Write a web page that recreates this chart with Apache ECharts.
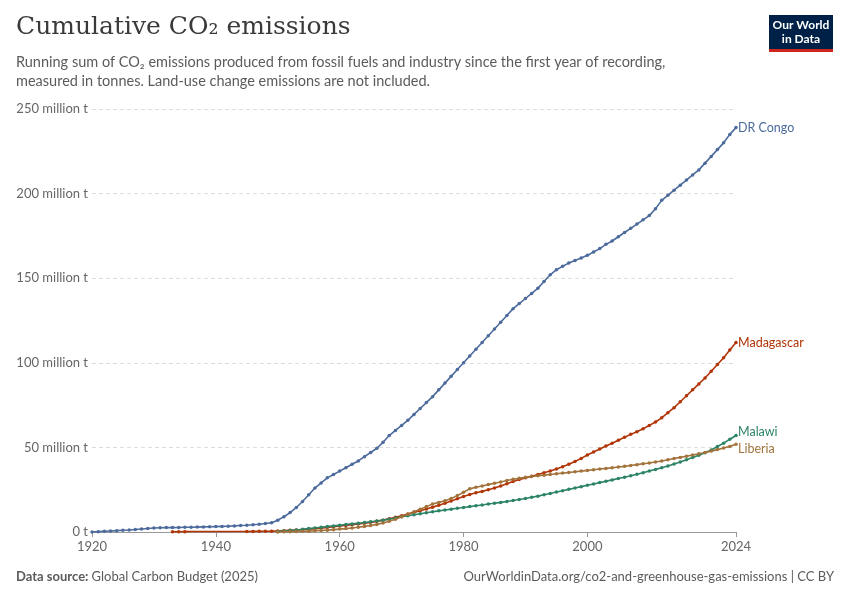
<!DOCTYPE html>
<html>
<head>
<meta charset="utf-8">
<script src="https://cdn.jsdelivr.net/npm/echarts@6/dist/echarts.min.js"></script>
<style>html,body{margin:0;padding:0;background:#fff}#main{width:850px;height:600px}</style>
</head>
<body>
<div id="main"></div>
<script>
// 年份刻度
var xTicks = [1920, 1940, 1960, 1980, 2000, 2024];
var yTicks = [0, 50, 100, 150, 200, 250];

// DR Congo, 1920-2024 (million t)
var congoStart = 1920;
var congo = [
	0, 0.2, 0.4, 0.6, 0.8, 1.0, 1.2, 1.5, 1.8, 2.1,
	2.4, 2.5, 2.6, 2.6, 2.7, 2.8, 2.8, 2.9, 3.0, 3.1,
	3.2, 3.3, 3.4, 3.6, 3.8, 4.0, 4.3, 4.6, 5.0, 5.5,
	7, 9, 11.5, 14.5, 18, 22, 26, 29, 32, 34,
	36, 38, 40, 42, 44.5, 47, 49.5, 53, 57, 60,
	63, 66, 69.5, 73, 76.5, 80, 84, 88, 92, 96,
	100, 104, 108, 112, 116, 120, 124, 128, 132, 135,
	138, 141, 144, 148, 152, 155, 157, 159, 160.5, 162,
	163.5, 165.5, 167.5, 170, 172, 174.5, 177, 179.5, 182, 184.5,
	187, 191, 196, 199, 202, 205, 208, 211, 214, 218,
	222, 226, 230, 235, 239
];

// Madagascar: 1933-1935, then 1945-2024
var madaEarlyYears = [1933, 1934, 1935];
var madaEarly = [0.1, 0.15, 0.2];
var madaStart = 1945;
var mada = [
	0.3, 0.35, 0.4, 0.45, 0.5,
	0.6, 0.8, 1.0, 1.2, 1.4, 1.7, 2.0, 2.3, 2.7, 3.1,
	3.5, 3.9, 4.3, 4.7, 5.2, 5.7, 6.3, 7.0, 7.8, 8.7,
	9.6, 10.6, 11.6, 12.6, 13.6, 14.7, 15.8, 17, 18.3, 19.6,
	21, 22.2, 23.2, 24, 25, 26, 27.2, 28.5, 29.8, 31,
	32, 33, 34, 35, 36, 37.2, 38.5, 40, 41.7, 43.5,
	45.5, 47.3, 49, 50.8, 52.5, 54.2, 56, 57.7, 59.3, 61,
	63, 65, 67.5, 70.5, 73.5, 77, 80.5, 84, 87.5, 91,
	95, 99, 103, 107.5, 112
];

// Malawi, 1950-2024
var malawiStart = 1950;
var malawi = [
	0.3, 0.6, 0.9, 1.2, 1.6, 2.0, 2.4, 2.8, 3.2, 3.6,
	4.0, 4.4, 4.8, 5.2, 5.6, 6.0, 6.5, 7.0, 7.6, 8.3,
	9.0, 9.6, 10.2, 10.8, 11.4, 12.0, 12.5, 13.0, 13.5, 14.0,
	14.5, 15, 15.5, 16, 16.5, 17, 17.5, 18, 18.6, 19.2,
	19.8, 20.5, 21.2, 22, 22.8, 23.6, 24.4, 25.2, 26, 26.8,
	27.6, 28.4, 29.2, 30, 30.8, 31.6, 32.4, 33.2, 34.1, 35,
	36, 37, 38, 39, 40.2, 41.4, 42.7, 44, 45.4, 46.8,
	48.5, 50.5, 52.5, 54.8, 57
];

// Liberia, 1950-2024
var liberiaStart = 1950;
var liberia = [
	0, 0.1, 0.2, 0.3, 0.4, 0.5, 0.7, 0.9, 1.1, 1.4,
	1.7, 2.0, 2.4, 2.8, 3.3, 3.8, 4.5, 5.3, 6.3, 7.5,
	9, 10.5, 12, 13.5, 15, 16.5, 17.5, 18.5, 19.8, 21.5,
	23.5, 25.5, 26.5, 27.2, 28, 28.8, 29.6, 30.4, 31.2, 31.8,
	32.3, 32.8, 33.2, 33.6, 34, 34.4, 34.8, 35.2, 35.6, 36,
	36.4, 36.8, 37.2, 37.6, 38, 38.4, 38.8, 39.3, 39.8, 40.3,
	40.8, 41.4, 42, 42.7, 43.4, 44.1, 44.8, 45.5, 46.2, 47,
	47.8, 48.7, 49.6, 50.6, 51.8
];

function pairs(start, vals) {
	return vals.map(function(v, i) { return [start + i, v]; });
}

var madaData = madaEarlyYears.map(function(y, i) { return [y, madaEarly[i]]; })
	.concat(pairs(madaStart, mada));

function makeSeries(name, color, data, offsetY) {
	return {
		name: name,
		type: 'line',
		data: data,
		symbol: 'circle',
		symbolSize: 3.5,
		lineStyle: { width: 1.6, color: color },
		itemStyle: { color: color },
		endLabel: {
			show: true,
			formatter: name,
			color: color,
			fontFamily: 'Lato',
			fontSize: 12.5,
			distance: 2,
			offset: [0, offsetY || 0]
		},
		animation: false
	};
}

var chart = echarts.init(document.getElementById('main'));
var option = {
	backgroundColor: '#fff',
	textStyle: { fontFamily: 'Lato' },
	grid: { left: 92, right: 114, top: 109, bottom: 68 },
	xAxis: {
		type: 'value',
		min: 1920,
		max: 2024,
		splitLine: { show: false },
		axisLine: { lineStyle: { color: '#999' } },
		axisTick: { show: true, customValues: xTicks, length: 5, lineStyle: { color: '#999' } },
		axisLabel: { customValues: xTicks, color: '#666', fontSize: 13, margin: 8, formatter: function(v) { return String(v); } }
	},
	yAxis: {
		type: 'value',
		min: 0,
		max: 250,
		interval: 50,
		axisLine: { show: false },
		axisTick: { show: false },
		splitLine: { lineStyle: { color: '#ddd', type: [4, 3] } },
		axisLabel: {
			color: '#666', fontSize: 13, margin: 4,
			formatter: function(v) { return v === 0 ? '0 t' : v + ' million t'; }
		}
	},
	graphic: [
		{ type: 'text', left: 16, top: 15, style: { text: 'Cumulative CO₂ emissions', fontFamily: 'DejaVu Serif', fontSize: 25, fill: '#3a3a3a' } },
		{ type: 'text', left: 16, top: 53, style: { text: 'Running sum of CO₂ emissions produced from fossil fuels and industry since the first year of recording,\nmeasured in tonnes. Land-use change emissions are not included.', fontFamily: 'Lato', fontSize: 14.5, lineHeight: 19, fill: '#5b5b5b' } },
		{ type: 'rect', x: 769, y: 15, shape: { width: 64, height: 36 }, style: { fill: '#002147' } },
		{ type: 'rect', x: 769, y: 49, shape: { width: 64, height: 3 }, style: { fill: '#ce261e' } },
		{ type: 'text', x: 801, y: 18, style: { text: 'Our World\nin Data', align: 'center', fontFamily: 'Lato', fontSize: 12, fontWeight: 'bold', lineHeight: 14, fill: '#fff' } },
		{ type: 'text', left: 16, top: 570, style: { rich: { b: { fontWeight: 'bold', fill: '#5b5b5b', fontSize: 13, fontFamily: 'Lato' }, n: { fill: '#5b5b5b', fontSize: 13, fontFamily: 'Lato' } }, text: '{b|Data source:} {n|Global Carbon Budget (2025)}', fontFamily: 'Lato' } },
		{ type: 'text', right: 16, top: 570, style: { text: 'OurWorldinData.org/co2-and-greenhouse-gas-emissions | CC BY', fontFamily: 'Lato', fontSize: 13, fill: '#5b5b5b' } }
	],
	series: [
		makeSeries('DR Congo', '#4C6A9C', pairs(congoStart, congo), 0),
		makeSeries('Madagascar', '#B13507', madaData, 0),
		makeSeries('Malawi', '#2C8465', pairs(malawiStart, malawi), -4),
		makeSeries('Liberia', '#A2733B', pairs(liberiaStart, liberia), 5)
	]
};
chart.setOption(option);
</script>
</body>
</html>
